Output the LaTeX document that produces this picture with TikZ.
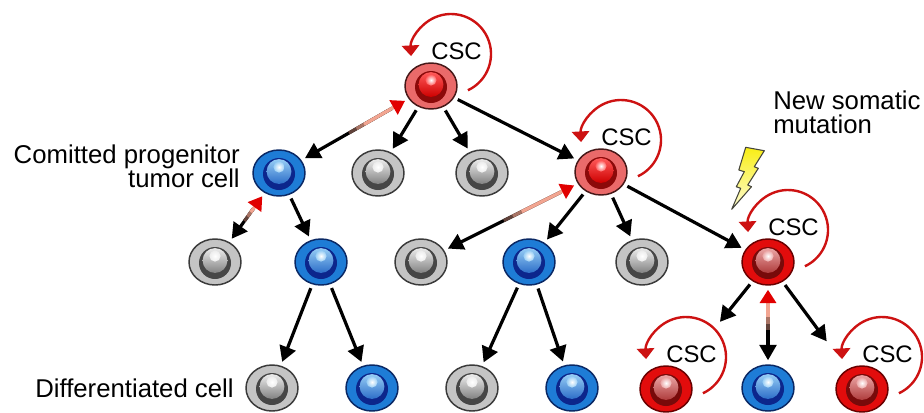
\documentclass[tikz,border=0pt]{standalone}
\usepackage{fontspec}
\setmainfont{Liberation Sans}
\usetikzlibrary{arrows.meta,calc,shapes.geometric}

% cell palettes: body fill / body outline / nucleus ring / nucleus top / nucleus bottom
\definecolor{grayfill}{RGB}{196,196,196}
\definecolor{grayline}{RGB}{58,58,58}
\definecolor{grayring}{RGB}{70,70,70}
\definecolor{graytop}{RGB}{236,236,236}
\definecolor{graybot}{RGB}{130,130,130}

\definecolor{bluefill}{RGB}{30,124,214}
\definecolor{blueline}{RGB}{10,40,100}
\definecolor{bluering}{RGB}{12,38,140}
\definecolor{bluetop}{RGB}{150,205,245}
\definecolor{bluebot}{RGB}{45,110,200}

\definecolor{salmfill}{RGB}{234,106,106}
\definecolor{salmline}{RGB}{70,24,24}
\definecolor{salmring}{RGB}{140,10,10}
\definecolor{salmtop}{RGB}{255,90,90}
\definecolor{salmbot}{RGB}{205,0,0}

\definecolor{redfill}{RGB}{226,12,12}
\definecolor{redline}{RGB}{105,0,0}
\definecolor{redring}{RGB}{120,10,10}
\definecolor{redtop}{RGB}{235,165,165}
\definecolor{redbot}{RGB}{175,60,60}

\definecolor{loopred}{RGB}{205,18,18}
\definecolor{headred}{RGB}{225,0,0}
\definecolor{pinkline}{RGB}{242,165,145}
\definecolor{boltline}{RGB}{70,70,60}
\definecolor{boltyel}{RGB}{248,238,20}
\definecolor{boltpale}{RGB}{255,253,215}

% a cell: outer body with a shaded nucleus
\newcommand\cellat[4]{%
  \node[cellbody, fill=#4fill, draw=#4line] (#1) at (#2,-#3) {};
  \fill[#4ring] ($(#1.center)+(0,-1)$) circle (12pt);
  \shade[top color=#4top, bottom color=#4bot] ($(#1.center)+(0,1.5)$) circle (9.3pt);
  \shade[inner color=white, outer color=#4top] ($(#1.center)+(0,6)$) circle (4.2pt);
}

% self-renewal loop above a stem cell
\newcommand\selfloop[1]{%
  \draw[loopst] ($(#1.center)+(20,32)$) ++(-65:30pt)
    arc[start angle=-65, end angle=183, radius=30pt];
}

% two-way link: black head at #1, red head at #2, line fading to pink
\newcommand\twoway[2]{%
  \draw[wire, shorten >=3pt, shorten <=14pt, -{Triangle[length=11.5pt,width=12.5pt]}] (#2) -- (#1);
  \draw[wire, black!60!pinkline, shorten >=14pt] ($(#1)!0.46!(#2)$) -- (#2);
  \draw[wire, black!30!pinkline, shorten >=14pt] ($(#1)!0.51!(#2)$) -- (#2);
  \draw[wire, pinkline, shorten >=3pt,
        -{Triangle[length=10pt,width=12pt,color=headred,fill=headred]}] ($(#1)!0.56!(#2)$) -- (#2);
}

\begin{document}
\begin{tikzpicture}[x=0.75pt,y=0.75pt,
  cellbody/.style={ellipse, minimum width=39pt, minimum height=34.5pt, inner sep=0pt, line width=1.1pt},
  wire/.style={line width=2.4pt, black},
  conn/.style={wire, shorten <=3pt, shorten >=3pt, -{Triangle[length=11.5pt,width=12.5pt]}},
  loopst/.style={line width=1.8pt, loopred, -{Triangle[length=8pt,width=13pt]}},
  lbl/.style={font=\fontsize{19.3}{22}\selectfont, inner sep=0pt},
  csclbl/.style={font=\fontsize{17.9}{20}\selectfont, inner sep=0pt}]

\fill[white] (0,0) rectangle (924,-412);
\useasboundingbox (0,0) rectangle (924,-412);

% level 1
\cellat{topcsc}{431}{86}{salm}
% level 2
\cellat{prog}{279}{173}{blue}
\cellat{gA}{378}{173}{gray}
\cellat{gB}{482}{173}{gray}
\cellat{cscB}{601}{172}{salm}
% level 3
\cellat{gC}{215}{262}{gray}
\cellat{bA}{321}{262}{blue}
\cellat{gD}{421}{262}{gray}
\cellat{bB}{529}{262}{blue}
\cellat{gE}{642}{262}{gray}
\cellat{cscC}{768}{262}{red}
% level 4
\cellat{gF}{272}{388}{gray}
\cellat{bC}{372}{388}{blue}
\cellat{gG}{472}{388}{gray}
\cellat{bD}{572}{388}{blue}
\cellat{cscD}{666}{389}{red}
\cellat{bE}{768}{388}{blue}
\cellat{cscE}{862}{389}{red}

% lineage arrows
\draw[conn] (topcsc) -- (gA);
\draw[conn] (topcsc) -- (gB);
\draw[conn] (topcsc) -- (cscB);
\draw[conn] (prog) -- (bA);
\draw[conn] (cscB) -- (bB);
\draw[conn] (cscB) -- (gE);
\draw[conn] (cscB) -- (cscC);
\draw[conn] (bA) -- (gF);
\draw[conn] (bA) -- (bC);
\draw[conn] (bB) -- (gG);
\draw[conn] (bB) -- (bD);
\draw[conn, shorten >=46pt] (cscC) -- (cscD);
\draw[conn, shorten >=26pt] (cscC) -- (cscE);

% reversible links
\twoway{prog}{topcsc}
\twoway{gC}{prog}
\twoway{gD}{cscB}
\twoway{bE}{cscC}

% self-renewal loops and labels
\foreach \c in {topcsc,cscB,cscC,cscD,cscE}{
  \selfloop{\c}
  \node[csclbl, anchor=base west] (\c-lbl) at ($(\c.center)+(0,27)$) {CSC};
}

% lightning bolt
\draw[boltline, line width=0.8pt, line join=round, top color=boltyel, bottom color=boltpale]
  (745.7,-147.3) -- (764.3,-150.7) -- (754.3,-166.7) -- (758.3,-168.3)
  -- (747.7,-185) -- (751.5,-186.7) -- (731.7,-209.3) -- (740.7,-188.3)
  -- (736.3,-186.7) -- (744.3,-171.7) -- (738.8,-170) -- cycle;

% captions
\node[lbl, anchor=base east] (progA) at (240,-163) {Comitted progenitor};
\node[lbl, anchor=base east] (progB) at (240,-187) {tumor cell};
\node[lbl, anchor=base west] (diff) at (35,-397) {Differentiated cell};
\node[lbl, anchor=north west, align=left,
      font=\fontsize{19.3}{17.4}\selectfont] (mut) at (773,-91) {New somatic\\mutation};
\end{tikzpicture}
\end{document}
